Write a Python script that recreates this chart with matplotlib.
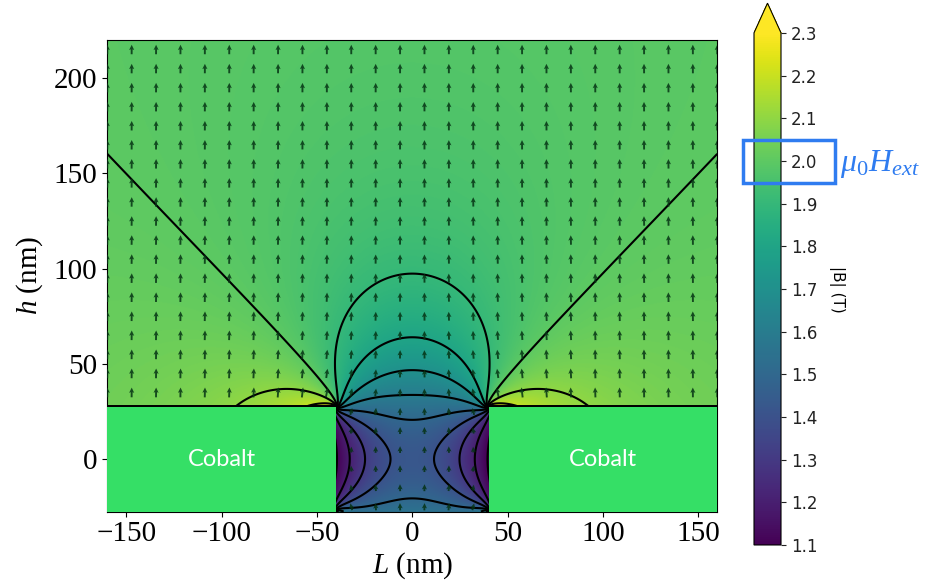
import numpy as np
import matplotlib
matplotlib.use("Agg")
import matplotlib.pyplot as plt
from matplotlib.patches import Rectangle

# Geometry of the two cobalt blocks and the plotting window (nm)
x_limits = [-160.0, 160.0]
y_limits = [-27.5, 220.0]
cobalt_left_x = [-1.0e5, -40.0]
cobalt_right_x = [40.0, 1.0e5]
cobalt_y = [-27.5, 27.5]

# Magnetic parameters (T)
mu0_Ms = 1.5
mu0_Hext = 2.0

# Contour levels of |B| (T)
contour_levels = [1.1, 1.2, 1.3, 1.4, 1.5, 1.6, 1.7, 1.8, 1.9, 2.0, 2.1, 2.2, 2.3]

# Ticks
x_ticks = [-150, -100, -50, 0, 50, 100, 150]
y_ticks = [0, 50, 100, 150, 200]
cbar_ticks = [1.1, 1.2, 1.3, 1.4, 1.5, 1.6, 1.7, 1.8, 1.9, 2.0, 2.1, 2.2, 2.3]

# Arrow grid
n_arrow_cols = 26
arrow_rows = [215, 205, 195, 185, 175, 165, 155, 145, 135, 125, 115, 105, 95,
              85, 75, 65, 55, 45, 35, 25, 15, 5, -5, -15, -25]

cobalt_color = "#35df66"
note_color = "#2f7cf0"

plt.rcParams["mathtext.fontset"] = "custom"
plt.rcParams["mathtext.rm"] = "Liberation Serif"
plt.rcParams["mathtext.it"] = "Liberation Serif:italic"


def strip_field(X, Y, x1, x2, y0, sigma):
    """Field of a uniformly charged strip (2D, infinite along z)."""
    dy = Y - y0
    r1 = (X - x1) ** 2 + dy ** 2
    r2 = (X - x2) ** 2 + dy ** 2
    hx = sigma / (4 * np.pi) * np.log(r1 / r2)
    hy = sigma / (2 * np.pi) * (np.arctan2(dy, X - x2) - np.arctan2(dy, X - x1))
    return hx, hy


def total_field(X, Y):
    bx = np.zeros_like(X)
    by = np.full_like(X, mu0_Hext)
    for xs in (cobalt_left_x, cobalt_right_x):
        for y0, s in ((cobalt_y[1], mu0_Ms), (cobalt_y[0], -mu0_Ms)):
            hx, hy = strip_field(X, Y, xs[0], xs[1], y0, s)
            bx += hx
            by += hy
    return bx, by


xs = np.linspace(x_limits[0], x_limits[1], 801) + 1e-3
ys = np.linspace(y_limits[0], y_limits[1], 620) + 1e-3
X, Y = np.meshgrid(xs, ys)
Bx, By = total_field(X, Y)
Bmag = np.hypot(Bx, By)

fig = plt.figure(figsize=(9.28, 5.87), dpi=100)
ax = fig.add_axes([0.1156, 0.1286, 0.6573, 0.8033])

im = ax.imshow(Bmag, extent=[x_limits[0], x_limits[1], y_limits[0], y_limits[1]],
               origin="lower", cmap="viridis", vmin=1.1, vmax=2.3,
               interpolation="bilinear", aspect="auto", zorder=1)
ax.contour(X, Y, Bmag, levels=contour_levels, colors="k", linewidths=1.5, zorder=2)

qx = np.linspace(x_limits[0], x_limits[1], n_arrow_cols)
qy = np.array(arrow_rows, dtype=float)
QX, QY = np.meshgrid(qx, qy)
QBx, QBy = total_field(QX + 1e-3, QY + 1e-3)
ax.quiver(QX, QY, QBx, QBy, units="dots", scale_units="dots", scale=0.21,
          width=1.9, headwidth=2.7, headlength=2.8, headaxislength=2.4,
          pivot="mid", color=(0.02, 0.2, 0.08), alpha=0.85, zorder=3)

for xr in (cobalt_left_x, cobalt_right_x):
    x0 = max(xr[0], x_limits[0])
    x1 = min(xr[1], x_limits[1])
    ax.add_patch(Rectangle((x0, cobalt_y[0]), x1 - x0, cobalt_y[1] - cobalt_y[0],
                           facecolor=cobalt_color, edgecolor="none", zorder=5))
    ax.text(0.5 * (x0 + x1), 0, "Cobalt", color="white", fontsize=17,
            family="Lato", ha="center", va="center", zorder=6)

ax.set_xlim(x_limits)
ax.set_ylim(y_limits)
ax.set_xticks(x_ticks)
ax.set_yticks(y_ticks)
for lab in ax.get_xticklabels() + ax.get_yticklabels():
    lab.set_family("Liberation Serif")
    lab.set_fontsize(21)
ax.set_xlabel(r"$L$ (nm)", family="Liberation Serif", fontsize=21, labelpad=2)
ax.set_ylabel(r"$h$ (nm)", family="Liberation Serif", fontsize=21, labelpad=6)

cax = fig.add_axes([0.8125, 0.0716, 0.0291, 0.923])
cb = fig.colorbar(im, cax=cax, extend="max", extendfrac=0.058, ticks=cbar_ticks)
cb.ax.set_yticklabels([f"{t:.1f}" for t in cbar_ticks])
cb.ax.tick_params(labelsize=12, colors="#222222")
cb.set_label("|B| (T)", rotation=270, fontsize=11, labelpad=20)

fig.add_artist(Rectangle((743 / 928, 1 - 183 / 587), 92 / 928, 43.5 / 587,
                         transform=fig.transFigure, fill=False,
                         edgecolor=note_color, linewidth=2.5))
fig.text(840 / 928, 1 - 171 / 587, r"$\mu_0H_{ext}$", color=note_color,
         fontsize=23, ha="left", va="baseline")

fig.savefig("out.png", dpi=100)
